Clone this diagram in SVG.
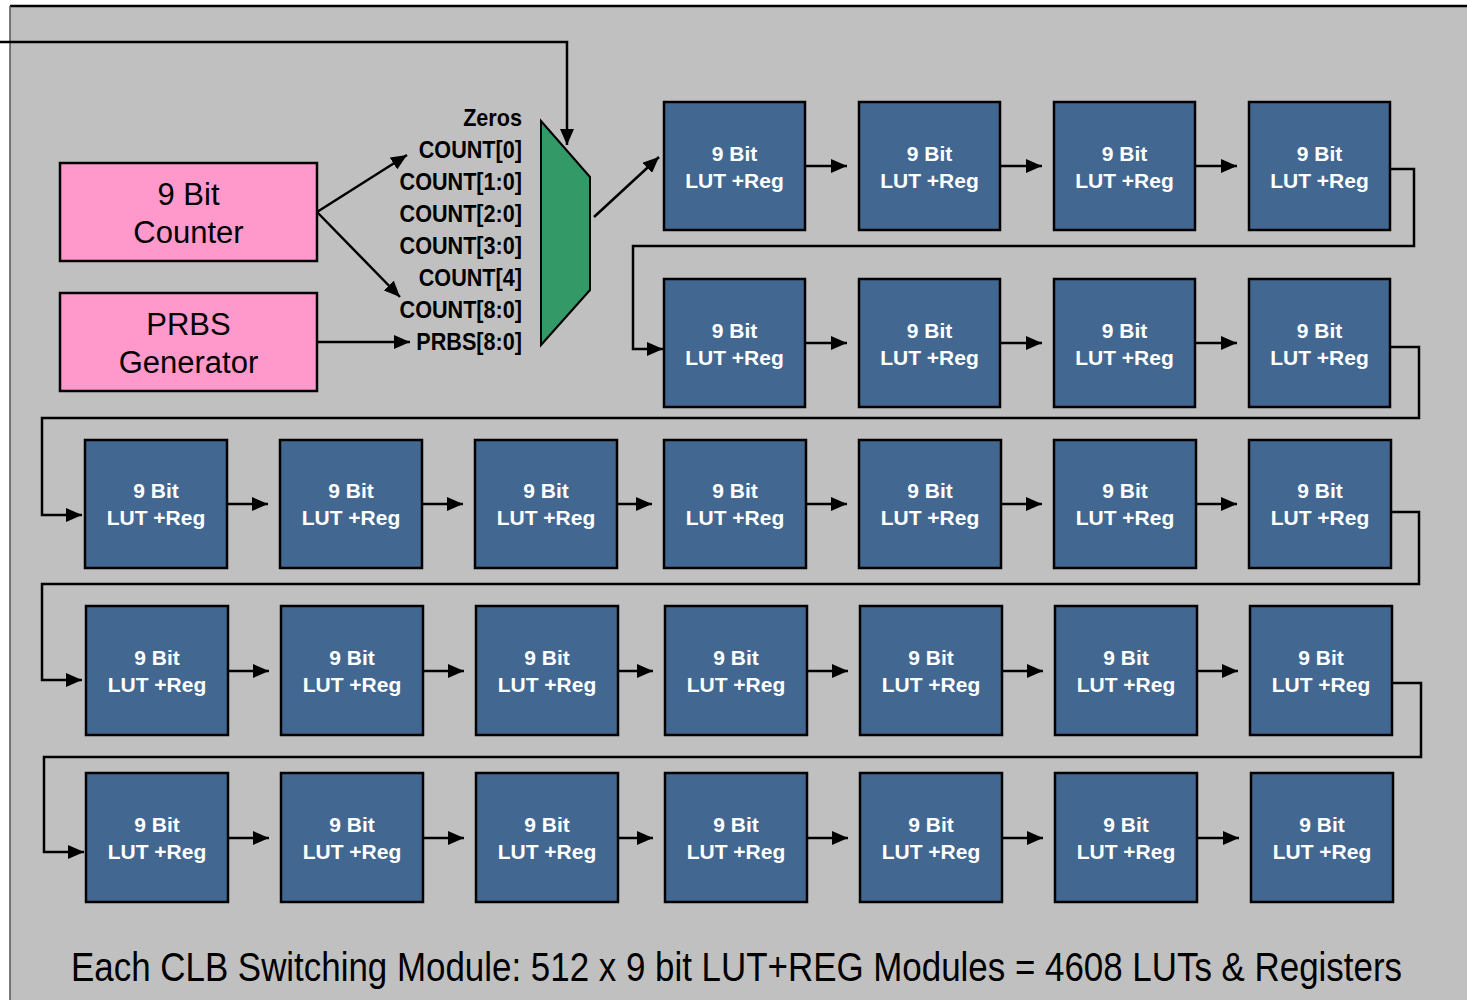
<svg xmlns="http://www.w3.org/2000/svg" width="1467" height="1000" viewBox="0 0 1467 1000">
<defs>
<style>
.lut rect{fill:#426891;stroke:#000;stroke-width:2.5}
.lut text{font-family:"Liberation Sans",Arial,sans-serif;font-weight:bold;font-size:21px;fill:#fff;text-anchor:middle}
.src rect{fill:#ff99cc;stroke:#000;stroke-width:2.5}
.src text{font-family:"Liberation Sans",Arial,sans-serif;font-size:31px;fill:#000;text-anchor:middle}
.lbl{font-family:"Liberation Sans",Arial,sans-serif;font-weight:bold;font-size:23px;fill:#000;text-anchor:end}
.wire{fill:none;stroke:#000;stroke-width:2.5}
.arr{marker-end:url(#ah)}
</style>
<marker id="ah" markerUnits="userSpaceOnUse" markerWidth="17" markerHeight="14" refX="16" refY="7" orient="auto" viewBox="0 0 17 14">
<path d="M0,0 L16,7 L0,14 z" fill="#000"/>
</marker>
</defs>
<rect x="0" y="0" width="1467" height="1000" fill="#fff"/>
<rect x="10" y="6" width="1470" height="1000" fill="#c0c0c0"/>
<line x1="10" y1="6" x2="1467" y2="6" stroke="#000" stroke-width="2.5"/>
<line x1="10" y1="6" x2="10" y2="1000" stroke="#555" stroke-width="1.5"/>

<g id="counter" class="src"><rect x="60" y="163" width="257" height="98"/><text x="188.5" y="205">9 Bit</text><text x="188.5" y="243">Counter</text></g>
<g id="prbs" class="src"><rect x="60" y="293" width="257" height="98"/><text x="188.5" y="335">PRBS</text><text x="188.5" y="373">Generator</text></g>

<g id="mux-labels" transform="translate(522,0) scale(0.94,1)">
<text class="lbl" x="0" y="126">Zeros</text>
<text class="lbl" x="0" y="158">COUNT[0]</text>
<text class="lbl" x="0" y="190">COUNT[1:0]</text>
<text class="lbl" x="0" y="222">COUNT[2:0]</text>
<text class="lbl" x="0" y="254">COUNT[3:0]</text>
<text class="lbl" x="0" y="286">COUNT[4]</text>
<text class="lbl" x="0" y="318">COUNT[8:0]</text>
<text class="lbl" x="0" y="350">PRBS[8:0]</text>
</g>
<g id="mux"><polygon points="541,121 590,177 590,290 541,345" fill="#339966" stroke="#000" stroke-width="2"/></g>

<g id="r1" class="lut">
<g id="n1-1"><rect x="664" y="102" width="141" height="128"/><text x="734.5" y="161">9 Bit</text><text x="734.5" y="188">LUT +Reg</text></g>
<g id="n1-2"><rect x="859" y="102" width="141" height="128"/><text x="929.5" y="161">9 Bit</text><text x="929.5" y="188">LUT +Reg</text></g>
<g id="n1-3"><rect x="1054" y="102" width="141" height="128"/><text x="1124.5" y="161">9 Bit</text><text x="1124.5" y="188">LUT +Reg</text></g>
<g id="n1-4"><rect x="1249" y="102" width="141" height="128"/><text x="1319.5" y="161">9 Bit</text><text x="1319.5" y="188">LUT +Reg</text></g>
</g>
<g id="r2" class="lut">
<g id="n2-1"><rect x="664" y="279" width="141" height="128"/><text x="734.5" y="338">9 Bit</text><text x="734.5" y="365">LUT +Reg</text></g>
<g id="n2-2"><rect x="859" y="279" width="141" height="128"/><text x="929.5" y="338">9 Bit</text><text x="929.5" y="365">LUT +Reg</text></g>
<g id="n2-3"><rect x="1054" y="279" width="141" height="128"/><text x="1124.5" y="338">9 Bit</text><text x="1124.5" y="365">LUT +Reg</text></g>
<g id="n2-4"><rect x="1249" y="279" width="141" height="128"/><text x="1319.5" y="338">9 Bit</text><text x="1319.5" y="365">LUT +Reg</text></g>
</g>
<g id="r3" class="lut">
<g id="n3-1"><rect x="85" y="440" width="142" height="128"/><text x="156" y="498">9 Bit</text><text x="156" y="525">LUT +Reg</text></g>
<g id="n3-2"><rect x="280" y="440" width="142" height="128"/><text x="351" y="498">9 Bit</text><text x="351" y="525">LUT +Reg</text></g>
<g id="n3-3"><rect x="475" y="440" width="142" height="128"/><text x="546" y="498">9 Bit</text><text x="546" y="525">LUT +Reg</text></g>
<g id="n3-4"><rect x="664" y="440" width="142" height="128"/><text x="735" y="498">9 Bit</text><text x="735" y="525">LUT +Reg</text></g>
<g id="n3-5"><rect x="859" y="440" width="142" height="128"/><text x="930" y="498">9 Bit</text><text x="930" y="525">LUT +Reg</text></g>
<g id="n3-6"><rect x="1054" y="440" width="142" height="128"/><text x="1125" y="498">9 Bit</text><text x="1125" y="525">LUT +Reg</text></g>
<g id="n3-7"><rect x="1249" y="440" width="142" height="128"/><text x="1320" y="498">9 Bit</text><text x="1320" y="525">LUT +Reg</text></g>
</g>
<g id="r4" class="lut">
<g id="n4-1"><rect x="86" y="606" width="142" height="129"/><text x="157" y="665">9 Bit</text><text x="157" y="692">LUT +Reg</text></g>
<g id="n4-2"><rect x="281" y="606" width="142" height="129"/><text x="352" y="665">9 Bit</text><text x="352" y="692">LUT +Reg</text></g>
<g id="n4-3"><rect x="476" y="606" width="142" height="129"/><text x="547" y="665">9 Bit</text><text x="547" y="692">LUT +Reg</text></g>
<g id="n4-4"><rect x="665" y="606" width="142" height="129"/><text x="736" y="665">9 Bit</text><text x="736" y="692">LUT +Reg</text></g>
<g id="n4-5"><rect x="860" y="606" width="142" height="129"/><text x="931" y="665">9 Bit</text><text x="931" y="692">LUT +Reg</text></g>
<g id="n4-6"><rect x="1055" y="606" width="142" height="129"/><text x="1126" y="665">9 Bit</text><text x="1126" y="692">LUT +Reg</text></g>
<g id="n4-7"><rect x="1250" y="606" width="142" height="129"/><text x="1321" y="665">9 Bit</text><text x="1321" y="692">LUT +Reg</text></g>
</g>
<g id="r5" class="lut">
<g id="n5-1"><rect x="86" y="773" width="142" height="129"/><text x="157" y="832">9 Bit</text><text x="157" y="859">LUT +Reg</text></g>
<g id="n5-2"><rect x="281" y="773" width="142" height="129"/><text x="352" y="832">9 Bit</text><text x="352" y="859">LUT +Reg</text></g>
<g id="n5-3"><rect x="476" y="773" width="142" height="129"/><text x="547" y="832">9 Bit</text><text x="547" y="859">LUT +Reg</text></g>
<g id="n5-4"><rect x="665" y="773" width="142" height="129"/><text x="736" y="832">9 Bit</text><text x="736" y="859">LUT +Reg</text></g>
<g id="n5-5"><rect x="860" y="773" width="142" height="129"/><text x="931" y="832">9 Bit</text><text x="931" y="859">LUT +Reg</text></g>
<g id="n5-6"><rect x="1055" y="773" width="142" height="129"/><text x="1126" y="832">9 Bit</text><text x="1126" y="859">LUT +Reg</text></g>
<g id="n5-7"><rect x="1251" y="773" width="142" height="129"/><text x="1322" y="832">9 Bit</text><text x="1322" y="859">LUT +Reg</text></g>
</g>

<g id="connectors" class="wire">
<path class="arr" d="M0,42 H567 V145"/>
<path class="arr" d="M317,212 L407,155"/>
<path class="arr" d="M317,212 L400,297"/>
<path class="arr" d="M317,342 H410"/>
<path class="arr" d="M594,217 L659,157"/>
<path class="arr" d="M805,166 H847"/>
<path class="arr" d="M1000,166 H1042"/>
<path class="arr" d="M1195,166 H1237"/>
<path class="arr" d="M1390,169 H1414 V246 H633 V349 H663"/>
<path class="arr" d="M805,343 H847"/>
<path class="arr" d="M1000,343 H1042"/>
<path class="arr" d="M1195,343 H1237"/>
<path class="arr" d="M1390,347 H1419 V418 H42 V515 H82"/>
<path class="arr" d="M227,504 H268"/>
<path class="arr" d="M422,504 H463"/>
<path class="arr" d="M617,504 H652"/>
<path class="arr" d="M806,504 H847"/>
<path class="arr" d="M1001,504 H1042"/>
<path class="arr" d="M1196,504 H1237"/>
<path class="arr" d="M1391,512 H1419 V584 H42 V680 H82"/>
<path class="arr" d="M228,671 H269"/>
<path class="arr" d="M423,671 H464"/>
<path class="arr" d="M618,671 H653"/>
<path class="arr" d="M807,671 H848"/>
<path class="arr" d="M1002,671 H1043"/>
<path class="arr" d="M1197,671 H1238"/>
<path class="arr" d="M1392,683 H1421 V757 H44 V852 H84"/>
<path class="arr" d="M228,838 H269"/>
<path class="arr" d="M423,838 H464"/>
<path class="arr" d="M618,838 H653"/>
<path class="arr" d="M807,838 H848"/>
<path class="arr" d="M1002,838 H1043"/>
<path class="arr" d="M1197,838 H1239"/>
</g>

<g id="caption" transform="translate(71,981) scale(1,1.15)">
<text x="0" y="0" textLength="1331" lengthAdjust="spacingAndGlyphs" font-family="'Liberation Sans',Arial,sans-serif" font-size="36" fill="#000">Each CLB Switching Module: 512 x 9 bit LUT+REG Modules = 4608 LUTs &amp; Registers</text>
</g>
</svg>
